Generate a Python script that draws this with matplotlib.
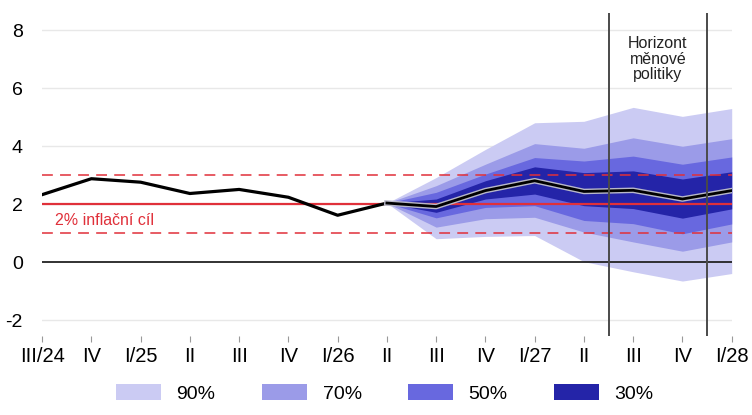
import matplotlib
matplotlib.use("Agg")
import matplotlib.pyplot as plt
import matplotlib.patheffects as pe
from matplotlib.patches import Patch

plt.rcParams['font.family'] = ['Liberation Sans', 'DejaVu Sans']

# quarters on the x axis
quarters = ["III/24", "IV", "I/25", "II", "III", "IV", "I/26", "II",
            "III", "IV", "I/27", "II", "III", "IV", "I/28"]

# history (III/24 .. II/26)
hist = [2.33, 2.88, 2.76, 2.37, 2.51, 2.24, 1.62, 2.04]

# forecast (II/26 .. I/28)
fc_mid = [2.04, 1.92, 2.47, 2.81, 2.44, 2.48, 2.18, 2.47]
fc_90_hi = [2.04, 2.92, 3.89, 4.81, 4.86, 5.34, 5.03, 5.30]
fc_90_lo = [2.04, 0.81, 0.89, 0.92, 0.02, -0.33, -0.65, -0.39]
fc_70_hi = [2.04, 2.64, 3.38, 4.09, 3.93, 4.29, 4.00, 4.26]
fc_70_lo = [2.04, 1.21, 1.50, 1.55, 1.04, 0.70, 0.38, 0.70]
fc_50_hi = [2.04, 2.41, 3.04, 3.61, 3.49, 3.66, 3.38, 3.63]
fc_50_lo = [2.04, 1.53, 1.89, 1.95, 1.44, 1.33, 0.98, 1.32]
fc_30_hi = [2.04, 2.18, 2.81, 3.29, 3.09, 3.15, 2.87, 3.12]
fc_30_lo = [2.04, 1.72, 2.18, 2.35, 1.95, 1.85, 1.52, 1.84]

band_labels = ["90%", "70%", "50%", "30%"]
band_colors = ["#cbcbf3", "#9b9be8", "#6868df", "#2424a8"]

x_hist = list(range(len(hist)))
x_fc = list(range(len(hist) - 1, len(quarters)))

fig = plt.figure(figsize=(7.52, 4.15), dpi=100)
ax = fig.add_axes([0.056, 0.19, 0.917, 0.779])

bands = [(fc_90_lo, fc_90_hi), (fc_70_lo, fc_70_hi),
         (fc_50_lo, fc_50_hi), (fc_30_lo, fc_30_hi)]
for (lo, hi), col in zip(bands, band_colors):
    ax.fill_between(x_fc, lo, hi, color=col, lw=0, zorder=2)

# grid
for yv in [-2, 2, 4, 6, 8]:
    ax.axhline(yv, color="#e8e8e8", lw=1, zorder=1)
ax.axhline(0, color="#222222", lw=1.3, zorder=3)

# inflation target
red = "#e0303a"
ax.axhline(2, color=red, lw=1.6, zorder=4)
ax.axhline(3, color=red, lw=1.3, ls=(0, (6, 4)), alpha=0.85, zorder=4)
ax.axhline(1, color=red, lw=1.3, ls=(0, (6, 4)), alpha=0.85, zorder=4)
ax.text(0.27, 1.45, "2% inflační cíl", color=red, fontsize=11.5,
        va="center", ha="left", zorder=6)

ax.plot(x_hist, hist, color="black", lw=2.3, zorder=5)
ax.plot(x_fc, fc_mid, color="black", lw=2.0, zorder=5,
        path_effects=[pe.Stroke(linewidth=4.0, foreground="#b8b8c8"), pe.Normal()])

# monetary policy horizon
for xv in [11.5, 13.5]:
    ax.axvline(xv, color="#4a4a4a", lw=1.4, zorder=7)
ax.text(12.5, 7.0, "Horizont\nměnové\npolitiky", ha="center", va="center",
        fontsize=11.5, color="#222222", linespacing=1.05, zorder=7)

ax.set_xlim(0, 14)
ax.set_ylim(-2.55, 8.6)
ax.set_xticks(range(len(quarters)))
ax.set_xticklabels(quarters, fontsize=14.5)
ax.set_yticks([-2, 0, 2, 4, 6, 8])
ax.set_yticklabels(["-2", "0", "2", "4", "6", "8"], fontsize=14)
ax.tick_params(axis="x", length=4, color="#999999", pad=4)
ax.tick_params(axis="y", length=0, pad=14)
for s in ax.spines.values():
    s.set_visible(False)

handles = [Patch(facecolor=c, edgecolor="none") for c in band_colors]
fig.legend(handles, band_labels, loc="center", bbox_to_anchor=(0.512, 0.052),
           ncol=4, frameon=False, fontsize=14, handlelength=2.3,
           handleheight=0.85, handletextpad=0.8, columnspacing=2.4)

fig.savefig("out.png", dpi=100)
